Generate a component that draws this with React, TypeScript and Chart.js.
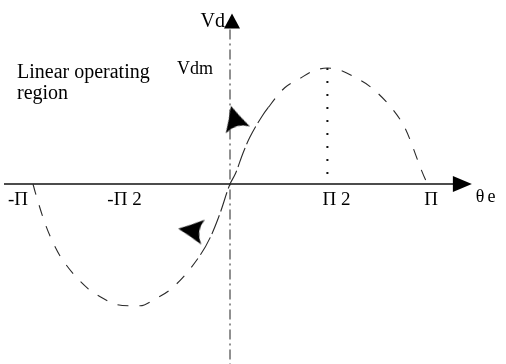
import React, { useEffect, useRef } from "react";
import { Chart, registerables } from "chart.js";

Chart.register(...registerables);

// Traced curve: electrical angle θe in degrees, and Vd normalised to Vdm
const thetaDeg = [
  -180, -178, -169, -162, -154, -130, -119, -103, -91, -82, -70, -52, -27, -18, -9, -2, 0,
  5, 12, 18, 29, 35, 50, 64, 75, 89, 101, 116, 128, 149, 160, 179, 181,
];
const vdNorm = [
  0, -0.07, -0.34, -0.5, -0.64, -0.9, -0.97, -1.04, -1.05, -1.05, -1.0, -0.89, -0.61, -0.46, -0.25, -0.05, 0,
  0.09, 0.27, 0.4, 0.58, 0.66, 0.83, 0.91, 0.97, 1.0, 0.98, 0.91, 0.84, 0.64, 0.48, 0.03, 0,
];

// Direction markers along the curve (angle in degrees, value, heading in degrees)
const arrowTheta = [4, -36];
const arrowVd = [0.57, -0.4];
const arrowHeading = [-106, 188];

// Horizontal axis ticks
const tickTheta = [-180, -90, 90, 180];
const tickText = ["-Π", "-Π 2", "Π 2", "Π"];

// Peak of the curve (Vdm)
const peakTheta = 89;
const peakVd = 1.0;

const SERIF = "'Liberation Serif', 'DejaVu Serif', serif";

function makeArrowHead(size: number): HTMLCanvasElement {
  const c = document.createElement("canvas");
  c.width = size;
  c.height = size;
  const g = c.getContext("2d")!;
  const s = size;
  g.fillStyle = "#000";
  g.beginPath();
  g.moveTo(s - 1, s / 2);
  g.quadraticCurveTo(s * 0.5, s * 0.3, 1, 1);
  g.quadraticCurveTo(s * 0.32, s * 0.5, 1, s - 1);
  g.quadraticCurveTo(s * 0.5, s * 0.7, s - 1, s / 2);
  g.closePath();
  g.fill();
  return c;
}

const axesPlugin = {
  id: "phaseAxes",
  beforeDatasetsDraw(chart: any) {
    const { ctx } = chart;
    const xs = chart.scales.x;
    const ys = chart.scales.y;
    const x0 = xs.getPixelForValue(0);
    const y0 = ys.getPixelForValue(0);
    const left = xs.getPixelForValue(xs.min);
    const bottom = ys.getPixelForValue(ys.min);
    ctx.save();

    // θe axis with arrow
    const tipX = xs.getPixelForValue(221);
    ctx.strokeStyle = "#111";
    ctx.lineWidth = 1.4;
    ctx.beginPath();
    ctx.moveTo(left + 4, y0);
    ctx.lineTo(tipX - 16, y0);
    ctx.stroke();
    ctx.fillStyle = "#000";
    ctx.beginPath();
    ctx.moveTo(tipX, y0);
    ctx.lineTo(tipX - 19, y0 - 8);
    ctx.lineTo(tipX - 19, y0 + 8);
    ctx.closePath();
    ctx.fill();

    // Vd axis (dash-dot) with arrow
    const tipY = ys.getPixelForValue(1.47);
    ctx.lineWidth = 1;
    ctx.strokeStyle = "#222";
    ctx.setLineDash([10, 4, 2, 4]);
    ctx.beginPath();
    ctx.moveTo(x0, tipY + 16);
    ctx.lineTo(x0, bottom);
    ctx.stroke();
    ctx.setLineDash([]);
    ctx.beginPath();
    ctx.moveTo(x0 + 2, tipY);
    ctx.lineTo(x0 - 6, tipY + 15);
    ctx.lineTo(x0 + 10, tipY + 15);
    ctx.closePath();
    ctx.fill();

    // dotted drop line from the peak
    const px = xs.getPixelForValue(peakTheta);
    ctx.setLineDash([2, 11]);
    ctx.lineWidth = 2;
    ctx.strokeStyle = "#111";
    ctx.beginPath();
    ctx.moveTo(px, ys.getPixelForValue(peakVd));
    ctx.lineTo(px, y0);
    ctx.stroke();
    ctx.setLineDash([]);

    // tick labels
    ctx.fillStyle = "#000";
    ctx.font = `19px ${SERIF}`;
    ctx.textBaseline = "alphabetic";
    const shift = [-15, -7, 8, 4];
    tickTheta.forEach((t, i) => {
      ctx.textAlign = "center";
      ctx.fillText(tickText[i], xs.getPixelForValue(t) + shift[i], y0 + 21);
    });
    ctx.font = `18px ${SERIF}`;
    ctx.textAlign = "left";
    (ctx as any).letterSpacing = "3px";
    ctx.fillText("θe", tipX + 4, y0 + 18);
    (ctx as any).letterSpacing = "0px";

    // axis names and annotations
    ctx.font = `20px ${SERIF}`;
    ctx.textAlign = "right";
    ctx.fillText("Vd", x0 - 5, tipY + 14);
    ctx.font = `18px ${SERIF}`;
    ctx.textBaseline = "middle";
    ctx.fillText("Vdm", x0 - 17, ys.getPixelForValue(peakVd) + 1);
    ctx.textBaseline = "alphabetic";
    ctx.textAlign = "left";
    ctx.font = `20px ${SERIF}`;
    ctx.fillText("Linear operating", 17, 78);
    ctx.fillText("region", 17, 99);
    ctx.restore();
  },
};

export default function App() {
  const ref = useRef<HTMLCanvasElement | null>(null);

  useEffect(() => {
    if (!ref.current) return;
    const arrowImg = makeArrowHead(27);
    const inLinear = (x: number) => x > -32 && x < 40;
    const chart = new Chart(ref.current, {
      type: "line",
      data: {
        datasets: [
          {
            data: arrowTheta.map((x, i) => ({ x, y: arrowVd[i] })),
            showLine: false,
            pointStyle: arrowImg as any,
            pointRotation: arrowHeading,
            pointRadius: 13,
            order: 0,
          } as any,
          {
            data: thetaDeg.map((x, i) => ({ x, y: vdNorm[i] })),
            borderColor: "#2a2a2a",
            borderWidth: 1.1,
            pointRadius: 0,
            cubicInterpolationMode: "monotone",
            borderDash: [11, 11],
            segment: {
              borderDash: (c: any) =>
                inLinear(c.p0.parsed.x) && inLinear(c.p1.parsed.x) ? [20, 4] : [11, 11],
            },
            order: 1,
          } as any,
        ],
      },
      options: {
        responsive: false,
        animation: false,
        layout: { padding: 0, autoPadding: false },
        plugins: { legend: { display: false }, tooltip: { enabled: false } },
        scales: {
          x: { type: "linear", min: -210.16, max: 252.19, display: false },
          y: { type: "linear", min: -1.5517, max: 1.5862, display: false },
        },
      },
      plugins: [axesPlugin],
    });
    return () => chart.destroy();
  }, []);

  return (
    <div style={{ position: "fixed", left: 0, top: 0, width: 506, height: 364, background: "#fff" }}>
      <canvas ref={ref} width={506} height={364} />
    </div>
  );
}
